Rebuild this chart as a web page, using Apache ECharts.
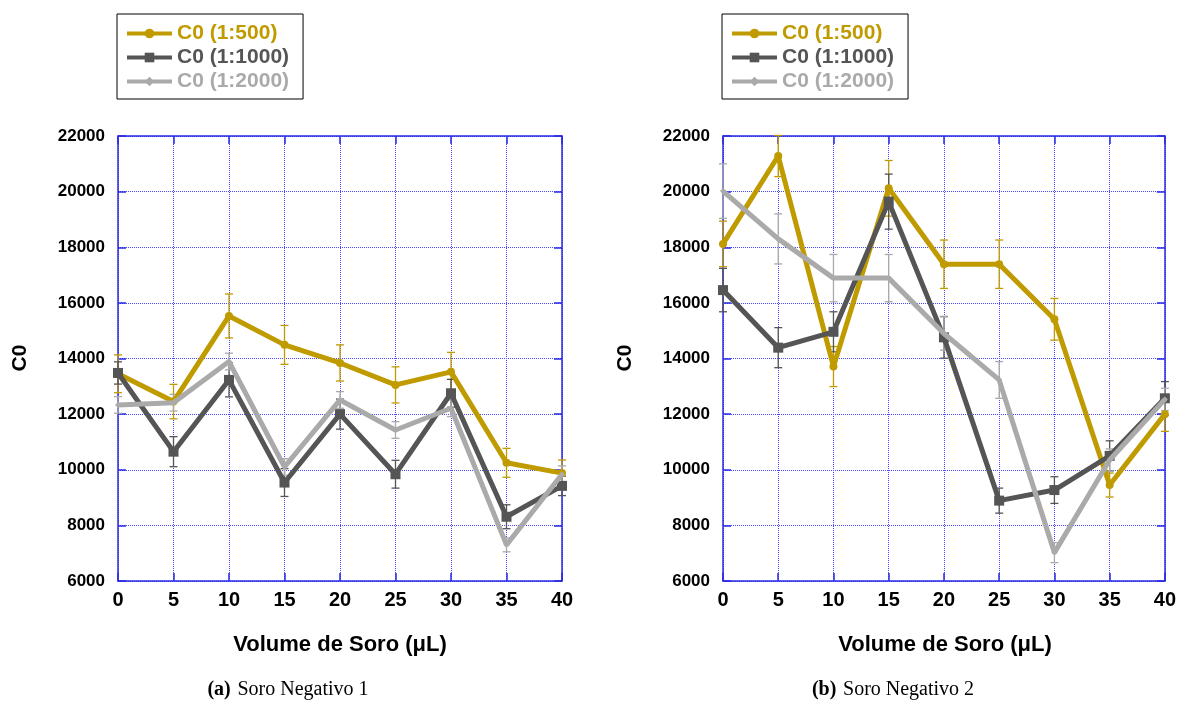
<!DOCTYPE html>
<html><head><meta charset="utf-8">
<script src="https://cdn.jsdelivr.net/npm/echarts@6/dist/echarts.min.js"></script>
<style>html,body{margin:0;padding:0;background:#fff}#c{width:1179px;height:704px}</style>
</head><body><div id="c"></div>
<script>
// ---- data ----
const volumes = [0, 5, 10, 15, 20, 25, 30, 35, 40];
const seriesNames = ['C0 (1:500)', 'C0 (1:1000)', 'C0 (1:2000)'];
const yTicks = [6000, 22000, 2000]; // min, max, interval

// Soro Negativo 1
const a500 = [13450, 12450, 15530, 14490, 13840, 13050, 13520, 10250, 9880];
const a500Err = [680, 620, 790, 700, 650, 650, 700, 520, 470];
const a1000 = [13480, 10650, 13230, 9540, 12000, 9840, 12750, 8310, 9420];
const a1000Err = [400, 540, 610, 500, 540, 500, 500, 430, 350];
const a2000 = [12330, 12410, 13890, 10100, 12510, 11430, 12210, 7300, 9840];
const a2000Err = [300, 300, 300, 300, 300, 300, 300, 250, 300];

// Soro Negativo 2
const b500 = [18120, 21280, 13710, 20120, 17390, 17390, 15410, 9450, 12000];
const b500Err = [820, 740, 720, 1000, 870, 870, 750, 430, 620];
const b1000 = [16460, 14390, 14960, 19640, 14760, 8890, 9270, 10500, 12570];
const b1000Err = [780, 720, 720, 990, 750, 450, 480, 540, 600];
const b2000 = [20020, 18300, 16890, 16890, 14900, 13230, 7020, 10350, 12530];
const b2000Err = [980, 900, 850, 850, 600, 660, 360, 400, 400];

const captions = [['(a)', 'Soro Negativo 1'], ['(b)', 'Soro Negativo 2']];
const xTitle = 'Volume de Soro (μL)';
const yTitle = 'C0';

// ---- styling ----
const colors = ['#C09B00', '#555555', '#AAAAAA'];
const symbols = ['circle', 'rect', 'diamond'];
const symbolSizes = [8, 10, 6];
const BLUE = '#2a2ae6';
const GRIDBLUE = '#4646ff';
const SANS = '"Liberation Sans", Arial, sans-serif';

const gridsPos = [{left: 118, top: 136, width: 444, height: 445}, {left: 723, top: 136, width: 444, height: 445}];

const xAxes = [], yAxes = [], series = [];
gridsPos.forEach((g, gi) => {
  const common = {min: 0, max: 40, interval: 5, gridIndex: gi, type: 'value'};
  xAxes.push(Object.assign({}, common, {
    position: 'bottom',
    axisLine: {show: true, onZero: false, lineStyle: {color: BLUE, width: 1.5}},
    axisTick: {show: true, inside: true, length: 8, lineStyle: {color: BLUE, width: 1.5}},
    axisLabel: {show: true, color: '#000', fontFamily: SANS, fontWeight: 'bold', fontSize: 20, margin: 9},
    splitLine: {show: true, lineStyle: {color: GRIDBLUE, type: [1, 1], width: 1}}
  }));
  xAxes.push(Object.assign({}, common, {
    position: 'top',
    axisLine: {show: true, onZero: false, lineStyle: {color: BLUE, width: 1.5}},
    axisTick: {show: true, inside: true, length: 8, lineStyle: {color: BLUE, width: 1.5}},
    axisLabel: {show: false}, splitLine: {show: false}
  }));
  const ycommon = {min: yTicks[0], max: yTicks[1], interval: yTicks[2], gridIndex: gi, type: 'value'};
  yAxes.push(Object.assign({}, ycommon, {
    position: 'left',
    axisLine: {show: true, onZero: false, lineStyle: {color: BLUE, width: 1.5}},
    axisTick: {show: true, inside: true, length: 8, lineStyle: {color: BLUE, width: 1.5}},
    axisLabel: {show: true, color: '#000', fontFamily: SANS, fontWeight: 'bold', fontSize: 17, margin: 13,
      formatter: v => String(v)},
    splitLine: {show: true, lineStyle: {color: GRIDBLUE, type: [1, 1], width: 1}}
  }));
  yAxes.push(Object.assign({}, ycommon, {
    position: 'right',
    axisLine: {show: true, onZero: false, lineStyle: {color: BLUE, width: 1.5}},
    axisTick: {show: true, inside: true, length: 8, lineStyle: {color: BLUE, width: 1.5}},
    axisLabel: {show: false}, splitLine: {show: false}
  }));
});

function errorSeries(vals, errs, color, gi) {
  return {
    type: 'custom', xAxisIndex: gi * 2, yAxisIndex: gi * 2, z: 1, silent: true,
    data: volumes.map((v, i) => [v, vals[i] - errs[i], vals[i] + errs[i]]),
    encode: {x: 0, y: [1, 2]},
    renderItem: function (params, api) {
      const x = api.value(0);
      const pHi = api.coord([x, api.value(2)]);
      const pLo = api.coord([x, api.value(1)]);
      const w = 4;
      const st = {stroke: color, lineWidth: 1.3};
      return {type: 'group', children: [
        {type: 'line', shape: {x1: pHi[0], y1: pHi[1], x2: pLo[0], y2: pLo[1]}, style: st},
        {type: 'line', shape: {x1: pHi[0] - w, y1: pHi[1], x2: pHi[0] + w, y2: pHi[1]}, style: st},
        {type: 'line', shape: {x1: pLo[0] - w, y1: pLo[1], x2: pLo[0] + w, y2: pLo[1]}, style: st}
      ]};
    }
  };
}

const panels = [[a500, a1000, a2000], [b500, b1000, b2000]];
const panelErrs = [[a500Err, a1000Err, a2000Err], [b500Err, b1000Err, b2000Err]];
panels.forEach((vals, gi) => {
  vals.forEach((arr, si) => {
    series.push(errorSeries(arr, panelErrs[gi][si], colors[si], gi));
  });
  vals.forEach((arr, si) => {
    series.push({
      name: seriesNames[si], type: 'line', xAxisIndex: gi * 2, yAxisIndex: gi * 2,
      data: volumes.map((v, i) => [v, arr[i]]),
      color: colors[si], symbol: symbols[si], symbolSize: symbolSizes[si], showSymbol: true,
      lineStyle: {width: 5, color: colors[si]}, itemStyle: {color: colors[si]},
      z: 2 + si, animation: false
    });
  });
});

const legends = [117, 722].map(left => ({
  orient: 'vertical', left: left, top: 14,
  padding: [9, 14, 7, 8], itemGap: 3, itemWidth: 45, itemHeight: 12,
  borderColor: '#000', borderWidth: 1, backgroundColor: '#fff',
  selectedMode: false,
  lineStyle: {width: 4},
  data: seriesNames.map((n, i) => ({name: n, textStyle: {color: colors[i]}})),
  textStyle: {fontFamily: SANS, fontWeight: 'bold', fontSize: 21, padding: [0, 0, 0, 0]}
}));

const graphic = [];
gridsPos.forEach((g, gi) => {
  const cx = g.left + g.width / 2;
  graphic.push({type: 'text', x: g.left - 98, y: 358, rotation: Math.PI / 2,
    style: {text: yTitle, fontFamily: SANS, fontWeight: 'bold', fontSize: 21, fill: '#000', align: 'center', verticalAlign: 'middle'}});
  graphic.push({type: 'text', x: cx, y: 645,
    style: {text: xTitle, fontFamily: SANS, fontWeight: 'bold', fontSize: 22, fill: '#000', align: 'center', verticalAlign: 'middle'}});
  graphic.push({type: 'text', x: cx - 52, y: 690,
    style: {text: '{b|' + captions[gi][0] + '}  {n|' + captions[gi][1] + '}', align: 'center', verticalAlign: 'middle',
      rich: {b: {fontFamily: '"Liberation Serif", serif', fontWeight: 'bold', fontSize: 20, fill: '#000'},
             n: {fontFamily: '"Liberation Serif", serif', fontSize: 20, fill: '#000'}}}});
});

const chart = echarts.init(document.getElementById('c'), null, {renderer: 'canvas'});
chart.setOption({
  animation: false,
  backgroundColor: '#fff',
  grid: gridsPos.map(g => Object.assign({containLabel: false}, g)),
  xAxis: xAxes, yAxis: yAxes, series: series,
  legend: legends, graphic: graphic
});
</script></body></html>
